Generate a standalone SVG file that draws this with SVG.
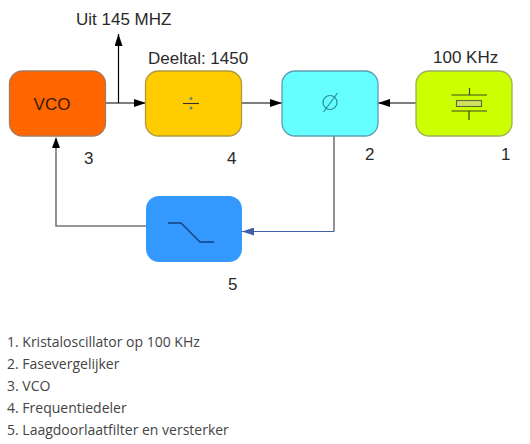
<svg xmlns="http://www.w3.org/2000/svg" width="530" height="444" viewBox="0 0 530 444">
<defs>
<marker id="ah" markerUnits="userSpaceOnUse" markerWidth="13" markerHeight="8" refX="12" refY="4" orient="auto"><path d="M0 0L12 4L0 8Z" fill="#000"/></marker>
<marker id="ahb" markerUnits="userSpaceOnUse" markerWidth="13" markerHeight="8" refX="12" refY="4" orient="auto"><path d="M0 0L12 4L0 8Z" fill="#3f5fa8"/></marker>
</defs>
<style>
.t{font-family:"Liberation Sans",Arial,sans-serif;font-size:17px;fill:#2a2a2a}
.l{font-family:"Open Sans","Noto Sans",sans-serif;font-size:14px;fill:#444}
.b{stroke-width:1.3}
.c{fill:none;stroke:#000;stroke-width:1.2}
.g{fill:none;stroke:#777;stroke-width:1.6}
.s{fill:none;stroke:#3a4a20;stroke-width:1.2}
</style>
<rect width="530" height="444" fill="#fff"/>
<g id="connectors">
<path class="c" d="M105 103H146" marker-end="url(#ah)"/>
<path class="c" d="M118.500 103V34" marker-end="url(#ah)"/>
<path class="c" d="M241 103H282" marker-end="url(#ah)"/>
<path class="c" d="M419 103H378" marker-end="url(#ah)"/>
<path class="g" d="M334 136V231.500"/>
<path d="M334 231.500H242" fill="none" stroke="#3f5fa8" stroke-width="1.2" marker-end="url(#ahb)"/>
<path class="g" d="M146 226H56V147"/>
<path d="M52 148L56 137L60 148Z" fill="#000"/>
</g>
<g id="vco">
<rect class="b" x="9.500" y="71" width="96" height="65" rx="13" fill="#ff6600" stroke="#a8785a"/>
<text class="t" x="52" y="110" text-anchor="middle" style="fill:#3a1a00">VCO</text>
</g>
<g id="deler">
<rect class="b" x="145.500" y="71" width="96" height="65" rx="13" fill="#ffcc00" stroke="#b09a40"/>
<path d="M183 103.500H199" stroke="#333" stroke-width="1.1"/>
<circle cx="191" cy="98.500" r="1.500" fill="#5f8a7a"/>
<circle cx="191" cy="108" r="1.500" fill="#5f8a7a"/>
</g>
<g id="fasevergelijker">
<rect class="b" x="282" y="71" width="96" height="65" rx="13" fill="#66ffff" stroke="#5aa0b0"/>
<circle cx="330" cy="102.500" r="7" fill="none" stroke="#2a8a9a" stroke-width="1.200"/>
<path d="M323.500 112L337.500 93" stroke="#2a8a9a" stroke-width="1.200"/>
</g>
<g id="kristal">
<rect class="b" x="416" y="71" width="96" height="65" rx="13" fill="#ccff00" stroke="#99b060"/>
<path class="s" d="M451.500 95H487M469.500 88V95M451.500 111H487M469 111V120"/>
<rect x="456.500" y="100.500" width="25" height="6" fill="#d0e060" stroke="#5a6a30" stroke-width="1.1"/>
</g>
<g id="filter">
<rect x="146" y="196" width="96" height="66" rx="13" fill="#3399ff"/>
<path d="M168 223H181L200 242H214" fill="none" stroke="#16407a" stroke-width="1.3"/>
</g>
<g id="labels">
<text class="t" x="76" y="25">Uit 145 MHZ</text>
<text class="t" x="148" y="64">Deeltal: 1450</text>
<text class="t" x="433" y="63">100 KHz</text>
<text class="t" x="84" y="164">3</text>
<text class="t" x="227" y="164">4</text>
<text class="t" x="365" y="160">2</text>
<text class="t" x="501" y="160">1</text>
<text class="t" x="228" y="290">5</text>
</g>
<g id="lijst">
<text class="l" x="7" y="347">1. Kristaloscillator op 100 KHz</text>
<text class="l" x="7" y="369">2. Fasevergelijker</text>
<text class="l" x="7" y="391">3. VCO</text>
<text class="l" x="7" y="413">4. Frequentiedeler</text>
<text class="l" x="7" y="435">5. Laagdoorlaatfilter en versterker</text>
</g>
</svg>
